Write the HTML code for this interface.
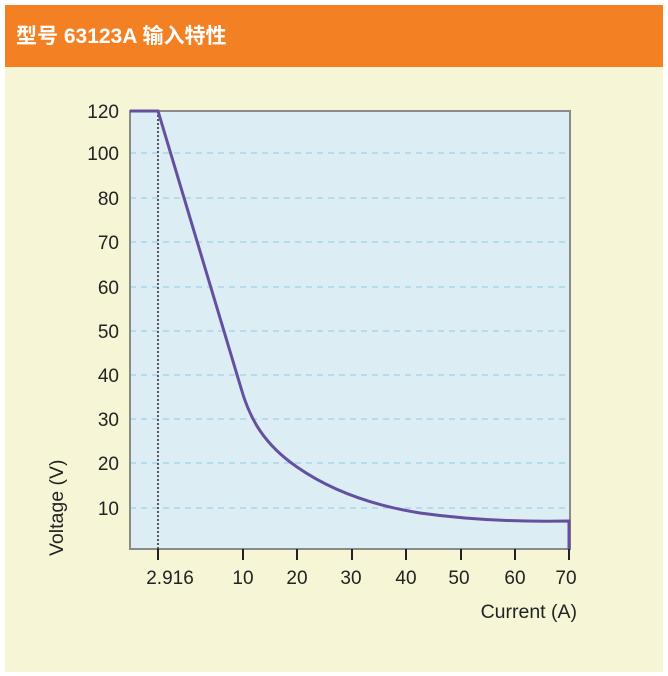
<!DOCTYPE html>
<html><head><meta charset="utf-8"><style>
body{margin:0;background:#fff;}
</style></head><body>
<svg width="668" height="676" xmlns="http://www.w3.org/2000/svg" style="display:block">
<rect x="5" y="5" width="658" height="667" fill="#f6f6d6"/>
<rect x="5" y="5" width="658" height="62" fill="#f48024"/>
<text x="16" y="43" font-family="Liberation Sans, Noto Sans CJK SC, sans-serif" font-size="21" font-weight="bold" fill="#fff">型号 63123A 输入特性</text>
<rect x="130" y="111" width="440" height="438" fill="#ddedf4"/>
<g stroke="#8ccbe6" stroke-width="1" stroke-dasharray="6,5">
<line x1="130" x2="570" y1="153" y2="153"/><line x1="130" x2="570" y1="198" y2="198"/>
<line x1="130" x2="570" y1="242" y2="242"/><line x1="130" x2="570" y1="287" y2="287"/>
<line x1="130" x2="570" y1="331" y2="331"/><line x1="130" x2="570" y1="375" y2="375"/>
<line x1="130" x2="570" y1="419" y2="419"/><line x1="130" x2="570" y1="463" y2="463"/>
<line x1="130" x2="570" y1="508" y2="508"/>
</g>
<rect x="130" y="111" width="440" height="438" fill="none" stroke="#8a8a8a" stroke-width="2"/>
<line x1="158" y1="111" x2="158" y2="549" stroke="#555" stroke-width="2" stroke-dasharray="2,2"/>
<g stroke="#222" stroke-width="2">
<line x1="158" x2="158" y1="549" y2="560"/><line x1="243" x2="243" y1="549" y2="560"/>
<line x1="297" x2="297" y1="549" y2="560"/><line x1="352" x2="352" y1="549" y2="560"/>
<line x1="406" x2="406" y1="549" y2="560"/><line x1="461" x2="461" y1="549" y2="560"/>
<line x1="515" x2="515" y1="549" y2="560"/><line x1="569" x2="569" y1="549" y2="560"/>
</g>
<path d="M130,111 L158,111 L241,388 C250,420 265,445 297,467 C330,490 370,505 420,513 C470,520 520,522 569,521 L569,549" fill="none" stroke="#6550a0" stroke-width="3"/>
<g font-family="Liberation Sans, sans-serif" font-size="19" fill="#222" text-anchor="end">
<text x="119" y="118">120</text><text x="119" y="160">100</text><text x="119" y="205">80</text>
<text x="119" y="249">70</text><text x="119" y="294">60</text><text x="119" y="338">50</text>
<text x="119" y="382">40</text><text x="119" y="426">30</text><text x="119" y="470">20</text>
<text x="119" y="515">10</text>
</g>
<g font-family="Liberation Sans, sans-serif" font-size="19" fill="#222" text-anchor="middle">
<text x="170" y="584">2.916</text><text x="243" y="584">10</text><text x="297" y="584">20</text>
<text x="351" y="584">30</text><text x="406" y="584">40</text><text x="459" y="584">50</text>
<text x="515" y="584">60</text><text x="566" y="584">70</text>
</g>
<text x="577" y="618" font-family="Liberation Sans, sans-serif" font-size="19.5" fill="#222" text-anchor="end">Current (A)</text>
<text transform="translate(63,556) rotate(-90)" font-family="Liberation Sans, sans-serif" font-size="19.5" fill="#222">Voltage (V)</text>
</svg>
</body></html>
